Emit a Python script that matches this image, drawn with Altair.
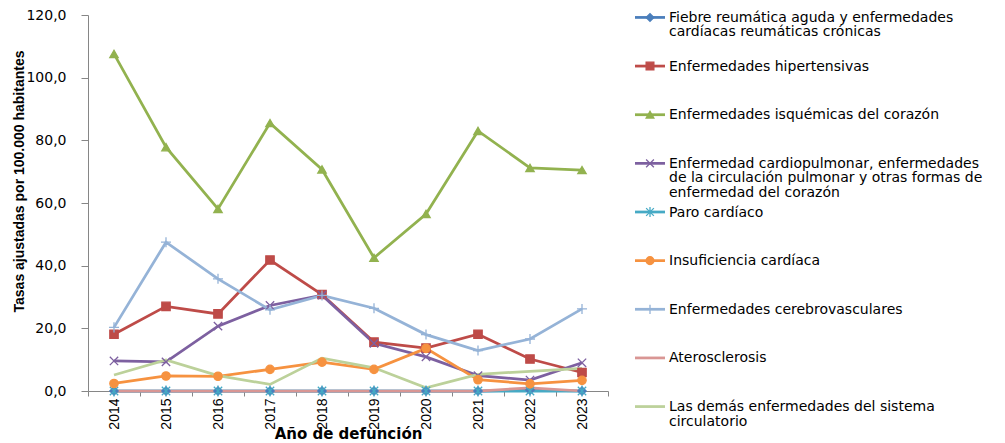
import altair as alt
import pandas as pd

years = [str(y) for y in range(2014, 2024)]

series_names = [
    "Fiebre reumática aguda y enfermedades cardíacas reumáticas crónicas",
    "Enfermedades hipertensivas",
    "Enfermedades isquémicas del corazón",
    "Enfermedad cardiopulmonar, enfermedades de la circulación pulmonar y otras formas de enfermedad del corazón",
    "Paro cardíaco",
    "Insuficiencia cardíaca",
    "Enfermedades cerebrovasculares",
    "Aterosclerosis",
    "Las demás enfermedades del sistema circulatorio",
]

legend_labels = [
    "Fiebre reumática aguda y enfermedades\ncardíacas reumáticas crónicas",
    "Enfermedades hipertensivas",
    "Enfermedades isquémicas del corazón",
    "Enfermedad cardiopulmonar, enfermedades\nde la circulación pulmonar y otras formas de\nenfermedad del corazón",
    "Paro cardíaco",
    "Insuficiencia cardíaca",
    "Enfermedades cerebrovasculares",
    "Aterosclerosis",
    "Las demás enfermedades del sistema\ncirculatorio",
]

fiebre = [0.0, 0.0, 0.0, 0.0, 0.0, 0.0, 0.0, 0.0, 0.3, 0.0]
hipertensivas = [18.1, 27.0, 24.6, 41.8, 30.8, 15.6, 13.7, 18.1, 10.2, 5.9]
isquemicas = [107.6, 77.8, 58.1, 85.5, 70.7, 42.5, 56.5, 83.0, 71.2, 70.5]
cardiopulmonar = [9.6, 9.3, 20.7, 27.3, 30.6, 15.2, 10.9, 4.9, 3.5, 9.0]
paro = [0.0, 0.0, 0.0, 0.0, 0.0, 0.0, 0.0, 0.0, 0.0, 0.0]
insuficiencia = [2.4, 4.8, 4.7, 6.9, 9.2, 6.9, 13.6, 3.6, 2.3, 3.4]
cerebrovasculares = [20.3, 47.5, 35.8, 25.9, 30.5, 26.4, 18.0, 12.9, 16.6, 26.2]
aterosclerosis = [0.0, 0.0, 0.0, 0.0, 0.0, 0.0, 0.0, 0.0, 1.0, 0.0]
demas = [5.1, 9.9, 4.9, 2.1, 10.5, 7.4, 1.0, 5.3, 6.3, 7.2]

all_values = [fiebre, hipertensivas, isquemicas, cardiopulmonar, paro,
              insuficiencia, cerebrovasculares, aterosclerosis, demas]

colors = ["#4A7EBB", "#BE4B48", "#92B24F", "#7D60A0", "#46AAC5",
          "#F69240", "#95B3D7", "#D99694", "#BCD19A"]

marker_series = series_names[:7]
marker_shapes = [
    "diamond",
    "square",
    "triangle-up",
    "M-1,-1L1,1M-1,1L1,-1",
    "M-1,-1L1,1M-1,1L1,-1M0,-1.3L0,1.3",
    "circle",
    "M-1.2,0L1.2,0M0,-1.2L0,1.2",
]

y_ticks = [0, 20, 40, 60, 80, 100, 120]

rows = []
for name, vals in zip(series_names, all_values):
    for yr, v in zip(years, vals):
        rows.append({"serie": name, "anio": yr, "tasa": v})
df = pd.DataFrame(rows)

df_leg = pd.DataFrame({"serie": series_names,
                       "idx": list(range(len(series_names))),
                       "etiqueta": legend_labels})

color_scale = alt.Scale(domain=series_names, range=colors)
shape_scale = alt.Scale(domain=marker_series, range=marker_shapes)
marker_filter = alt.FieldOneOfPredicate(field="serie", oneOf=marker_series)

SANS = "Liberation Sans, Arial, sans-serif"
GRAY = "#868686"

x_enc = alt.X(
    "anio:O",
    scale=alt.Scale(type="band", paddingInner=0, paddingOuter=0),
    axis=alt.Axis(
        title="Año de defunción",
        labelAngle=270,
        tickBand="extent",
        tickSize=5,
        tickColor=GRAY,
        domainColor=GRAY,
        labelFont=SANS,
        labelFontSize=14,
        labelColor="black",
        labelPadding=2,
        titleFont="DejaVu Sans",
        titleFontWeight="bold",
        titleFontSize=15,
        titleColor="black",
        titleY=50,
        titleBaseline="bottom",
    ),
)
y_enc = alt.Y(
    "tasa:Q",
    scale=alt.Scale(domain=[0, 120], nice=False),
    axis=alt.Axis(
        values=y_ticks,
        labelExpr="replace(format(datum.value, '.1f'), '.', ',')",
        grid=False,
        tickSize=7,
        tickColor=GRAY,
        domainColor=GRAY,
        labelPadding=15,
        labelFont="DejaVu Sans",
        labelFontSize=14,
        labelColor="black",
        title="Tasas ajustadas por 100.000 habitantes",
        titleFont=SANS,
        titleFontWeight="bold",
        titleFontSize=14,
        titleColor="black",
        titleX=-62,
        titleY=166,
        titleBaseline="bottom",
    ),
)

lines = alt.Chart(df).mark_line(strokeWidth=2.75).encode(
    x=x_enc, y=y_enc,
    color=alt.Color("serie:N", scale=color_scale, legend=None),
)
points = alt.Chart(df).transform_filter(marker_filter).mark_point(
    filled=True, size=70, strokeWidth=1.3, opacity=1
).encode(
    x=x_enc, y=y_enc,
    shape=alt.Shape("serie:N", scale=shape_scale, legend=None),
    fill=alt.Fill("serie:N", scale=color_scale, legend=None),
    stroke=alt.Stroke("serie:N", scale=color_scale, legend=None),
)
main = (lines + points).properties(width=520, height=376)

leg_y = alt.Y("idx:Q", scale=alt.Scale(domain=[-0.05, 8.05], reverse=True, nice=False, zero=False), axis=None)
leg_base = alt.Chart(df_leg)
leg_rule = leg_base.mark_rule(strokeWidth=2.75).encode(
    y=leg_y, x=alt.value(0), x2=alt.value(30),
    color=alt.Color("serie:N", scale=color_scale, legend=None),
)
leg_pts = leg_base.transform_filter(marker_filter).mark_point(
    filled=True, size=60, strokeWidth=1.3, opacity=1
).encode(
    y=leg_y, x=alt.value(15),
    shape=alt.Shape("serie:N", scale=shape_scale, legend=None),
    fill=alt.Fill("serie:N", scale=color_scale, legend=None),
    stroke=alt.Stroke("serie:N", scale=color_scale, legend=None),
)
leg_txt = leg_base.mark_text(
    align="left", baseline="top", dy=-6.5, lineBreak="\n",
    font="DejaVu Sans", fontSize=14, lineHeight=14.5, color="black",
).encode(y=leg_y, x=alt.value(34), text="etiqueta:N")
legend = (leg_rule + leg_pts + leg_txt).properties(width=350, height=394)

chart = alt.hconcat(main, legend, spacing=24).properties(
    padding={"left": 4, "top": 0, "right": 0, "bottom": 0}
).configure_view(stroke=None)

chart.save("out.html", embed_options={"renderer": "svg", "actions": False})
